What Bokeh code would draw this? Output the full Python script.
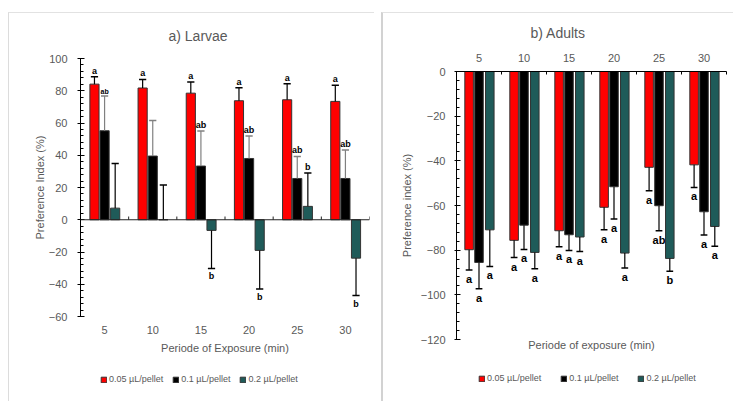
from bokeh.plotting import figure
from bokeh.models import (ColumnDataSource, FixedTicker, Span, Legend, LegendItem, LinearAxis)
from bokeh.embed import file_html
from bokeh.resources import INLINE
from bokeh.core.properties import value

# ---------------- data ----------------
periods = ["5", "10", "15", "20", "25", "30"]
series = ["0.05 µL/pellet", "0.1 µL/pellet", "0.2 µL/pellet"]

larvae_005 = [84.1, 81.7, 78.5, 73.8, 74.4, 73.4]
larvae_005_err = [4.6, 5.3, 7.0, 8.0, 10.0, 10.0]
larvae_01 = [55.2, 39.5, 33.3, 38.0, 25.6, 25.6]
larvae_01_err = [21.5, 22.0, 21.7, 14.0, 13.7, 17.6]
larvae_02 = [7.2, 0.0, -6.6, -19.0, 8.3, -23.8]
larvae_02_err = [27.7, 21.5, 23.6, 24.0, 20.7, 23.2]
larvae_005_letters = ["a", "a", "a", "a", "a", "a"]
larvae_01_letters = ["ab", "", "ab", "ab", "ab", "ab"]
larvae_02_letters = ["", "", "b", "b", "b", "b"]

adults_005 = [-79.8, -75.6, -71.3, -60.8, -42.9, -41.8]
adults_005_err = [9.1, 7.7, 7.2, 10.1, 10.5, 10.1]
adults_01 = [-85.5, -68.8, -73.1, -51.6, -60.1, -62.8]
adults_01_err = [11.8, 10.9, 7.0, 14.4, 11.2, 10.4]
adults_02 = [-70.9, -81.0, -74.1, -81.3, -83.7, -69.4]
adults_02_err = [16.4, 7.3, 6.5, 6.7, 5.7, 8.9]
adults_005_letters = ["a", "a", "a", "a", "a", "a"]
adults_01_letters = ["a", "a", "a", "a", "ab", "a"]
adults_02_letters = ["a", "a", "a", "a", "b", "a"]

larvae_yticks = [-60, -40, -20, 0, 20, 40, 60, 80, 100]
adults_yticks = [-120, -100, -80, -60, -40, -20, 0]

# ---------------- styles ----------------
FONT = "Liberation Sans"
GREY = "#595959"
COLORS = ["#ff0000", "#000000", "#1f5b59"]
EDGE = "#333333"

pos = [i + 1 for i in range(len(periods))]
bounds = [i + 1.5 for i in range(len(periods))]


def style_axis(ax):
    ax.major_label_text_font = FONT
    ax.major_label_text_color = GREY
    ax.major_label_text_font_size = "11px"
    ax.axis_label_text_font = FONT
    ax.axis_label_text_color = GREY
    ax.axis_label_text_font_size = "11px"
    ax.axis_label_text_font_style = "normal"
    ax.axis_line_color = "black"


def style_title(p):
    p.title.text_font = FONT
    p.title.text_font_size = "14px"
    p.title.text_font_style = "normal"
    p.title.text_color = GREY
    p.title.align = "left"


def draw_bars(p, vals_list, errs_list, letters_list, offsets, bw, cap, err_colors,
              letter_size, small=None):
    for k, (vals, errs, lets) in enumerate(zip(vals_list, errs_list, letters_list)):
        xs = [x + offsets[k] for x in pos]
        src = ColumnDataSource(dict(x=xs, top=vals, bottom=[0] * len(vals)))
        p.vbar(x="x", top="top", bottom="bottom", width=bw, source=src,
               fill_color=COLORS[k], line_color=EDGE, line_width=1)
        ends = [v + e if v >= 0 else v - e for v, e in zip(vals, errs)]
        p.segment(x0=xs, y0=vals, x1=xs, y1=ends, line_color=err_colors[k], line_width=1.2)
        p.segment(x0=[x - cap / 2 for x in xs], y0=ends, x1=[x + cap / 2 for x in xs], y1=ends,
                  line_color=err_colors[k], line_width=1.5)
        for i, (x, v, e, t) in enumerate(zip(xs, vals, ends, lets)):
            if not t:
                continue
            size = "7px" if small == (k, i) else letter_size
            if v >= 0:
                p.text(x=[x], y=[e], text=[t], text_align="center", text_baseline="bottom",
                       y_offset=-1, text_font=value(FONT), text_font_style="bold",
                       text_font_size=value(size), text_color="black")
            else:
                p.text(x=[x], y=[e], text=[t], text_align="center", text_baseline="top",
                       y_offset=3, text_font=value(FONT), text_font_style="bold",
                       text_font_size=value(size), text_color="black")


def legend_figure(left, top, width, spacing):
    lf = figure(width=width, height=16, x_range=(0, 1), y_range=(0, 1),
                output_backend="svg", toolbar_location=None,
                x_axis_type=None, y_axis_type=None,
                min_border_left=0, min_border_right=0, min_border_top=0, min_border_bottom=0)
    lf.styles = {"position": "absolute", "left": f"{left}px", "top": f"{top}px"}
    lf.outline_line_color = None
    lf.xgrid.visible = False
    lf.ygrid.visible = False
    lf.background_fill_alpha = 0
    lf.border_fill_alpha = 0
    items = []
    for s, c in zip(series, COLORS):
        # a proxy bar kept outside the visible range, only to feed the legend swatch
        r = lf.vbar(x=[-10], top=[-10], bottom=[-11], width=0.1,
                    fill_color=c, line_color=EDGE, line_width=1)
        items.append(LegendItem(label=s, renderers=[r], index=0))
    lg = Legend(items=items, orientation="horizontal", location="left",
                glyph_width=7, glyph_height=7, label_standoff=2, spacing=spacing,
                label_text_font=FONT, label_text_font_size="9px", label_text_color=GREY,
                label_height=10, padding=0, margin=0, border_line_color=None,
                background_fill_alpha=0)
    lf.add_layout(lg)
    return lf


# ---------------- Larvae ----------------
p1 = figure(frame_width=289, frame_height=258, x_range=(0.5, 6.5), y_range=(-60, 100),
            output_backend="svg", toolbar_location=None, title="a) Larvae",
            min_border_left=71, min_border_right=5, min_border_top=45, min_border_bottom=85)
p1.styles = {"position": "absolute", "left": "8px", "top": "12px",
             "border-left": "1px solid #dcdcdc", "border-top": "1px solid #e2e2e2"}
p1.outline_line_color = None
p1.xgrid.visible = False
p1.ygrid.visible = False
style_title(p1)
p1.title.offset = 88
p1.title.vertical_align = "top"
p1.title.standoff = 26

style_axis(p1.yaxis[0])
p1.yaxis.ticker = FixedTicker(ticks=larvae_yticks, minor_ticks=list(range(-60, 101, 4)))
p1.yaxis.major_tick_in = 4
p1.yaxis.major_tick_out = 3
p1.yaxis.minor_tick_in = 3
p1.yaxis.minor_tick_out = 0
p1.yaxis.major_label_standoff = 10
p1.yaxis.axis_label = "Preference Index (%)"
p1.yaxis.axis_label_standoff = 0

style_axis(p1.xaxis[0])
p1.xaxis.ticker = FixedTicker(ticks=pos)
p1.xaxis.major_label_overrides = {x: lab for x, lab in zip(pos, periods)}
p1.xaxis.axis_line_color = None
p1.xaxis.major_tick_line_color = None
p1.xaxis.minor_tick_line_color = None
p1.xaxis.major_tick_out = 0
p1.xaxis.major_label_standoff = 9
p1.xaxis.axis_label = "Periode of Exposure (min)"
p1.xaxis.axis_label_standoff = 5

p1.add_layout(Span(location=0, dimension="width", line_color="#222222", line_width=1))
p1.segment(x0=bounds, y0=[0] * len(bounds), x1=bounds, y1=[2] * len(bounds),
           line_color="#222222", line_width=1)

draw_bars(p1, [larvae_005, larvae_01, larvae_02],
          [larvae_005_err, larvae_01_err, larvae_02_err],
          [larvae_005_letters, larvae_01_letters, larvae_02_letters],
          offsets=[-0.21, 0.0, 0.22], bw=0.19, cap=0.15,
          err_colors=["black", "#808080", "black"], letter_size="9px",
          small=(1, 0))

# ---------------- Adults ----------------
p2 = figure(frame_width=270, frame_height=268, x_range=(0.5, 6.5), y_range=(-120, 0),
            output_backend="svg", toolbar_location=None, title="b) Adults",
            x_axis_location="above",
            min_border_left=73, min_border_right=7, min_border_top=58, min_border_bottom=62)
p2.styles = {"position": "absolute", "left": "381px", "top": "12px",
             "border-left": "2px solid #d2d2d2", "border-top": "1px solid #e2e2e2"}
p2.outline_line_color = None
p2.xgrid.visible = False
p2.ygrid.visible = False
style_title(p2)
p2.title.offset = 74
p2.title.standoff = 19

style_axis(p2.yaxis[0])
p2.yaxis.ticker = FixedTicker(ticks=adults_yticks, minor_ticks=list(range(-120, 1, 4)))
p2.yaxis.major_tick_in = 4
p2.yaxis.major_tick_out = 2
p2.yaxis.minor_tick_in = 3
p2.yaxis.minor_tick_out = 0
p2.yaxis.major_label_standoff = 9
p2.yaxis.axis_label = "Preference index (%)"
p2.yaxis.axis_label_standoff = 5

style_axis(p2.xaxis[0])
p2.xaxis.ticker = FixedTicker(ticks=pos, minor_ticks=bounds)
p2.xaxis.major_label_overrides = {x: lab for x, lab in zip(pos, periods)}
p2.xaxis.major_tick_in = 0
p2.xaxis.major_tick_out = 0
p2.xaxis.minor_tick_in = 3
p2.xaxis.minor_tick_out = 0
p2.xaxis.major_label_standoff = 10

bottom_ax = LinearAxis(ticker=FixedTicker(ticks=[]), axis_label="Periode of exposure (min)")
style_axis(bottom_ax)
bottom_ax.axis_line_color = None
bottom_ax.major_tick_line_color = None
bottom_ax.minor_tick_line_color = None
bottom_ax.major_tick_out = 0
bottom_ax.major_label_standoff = 0
bottom_ax.axis_label_standoff = -1
p2.add_layout(bottom_ax, "below")

draw_bars(p2, [adults_005, adults_01, adults_02],
          [adults_005_err, adults_01_err, adults_02_err],
          [adults_005_letters, adults_01_letters, adults_02_letters],
          offsets=[-0.22, 0.0, 0.24], bw=0.19, cap=0.15,
          err_colors=["black", "black", "black"], letter_size="11px")

# ---------------- legends ----------------
lf1 = legend_figure(100, 371, 230, 9)
lf2 = legend_figure(478, 370, 240, 19)

open("out.html", "w").write(file_html([p1, p2, lf1, lf2], INLINE))
